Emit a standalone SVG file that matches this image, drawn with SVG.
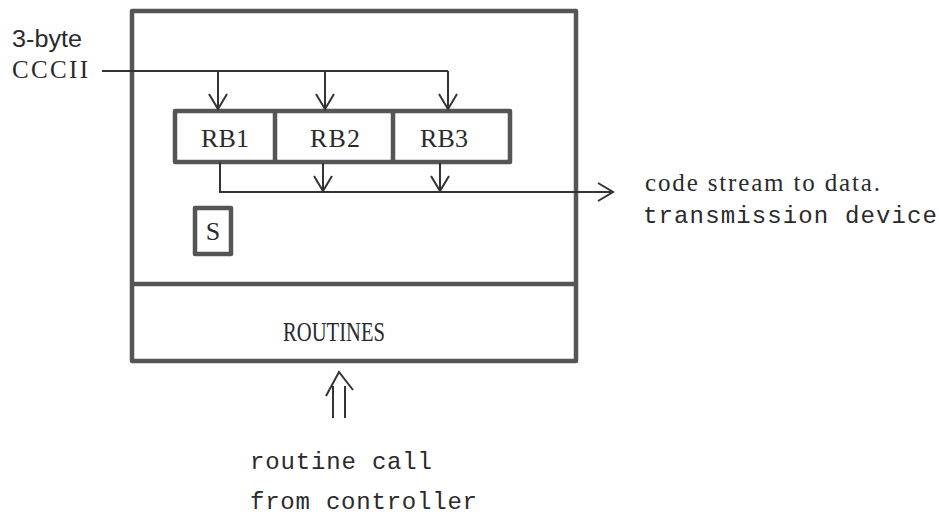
<svg xmlns="http://www.w3.org/2000/svg" width="939" height="519" viewBox="0 0 939 519">
<defs>
<style>
.box{fill:none;stroke:#555;stroke-width:4.5;stroke-linejoin:round}
.ln{fill:none;stroke:#333;stroke-width:2}
.hd{fill:none;stroke:#333;stroke-width:2;stroke-linejoin:miter}
.serif{font-family:"Liberation Serif","DejaVu Serif",serif;fill:#2a2a2a}
.sans{font-family:"Liberation Sans","DejaVu Sans",sans-serif;fill:#2a2a2a}
.mono{font-family:"Liberation Mono","DejaVu Sans Mono",monospace;fill:#2a2a2a}
</style>
<marker id="v" viewBox="0 0 20 20" refX="18" refY="10" markerWidth="20" markerHeight="20" markerUnits="userSpaceOnUse" orient="auto">
<path d="M3,1 L18,10 L3,19" fill="none" stroke="#333" stroke-width="2"/>
</marker>
</defs>
<rect width="939" height="519" fill="#fff"/>

<g id="system">
<rect class="box" x="132" y="11" width="444" height="350"/>
<line class="box" x1="132" y1="284" x2="576" y2="284"/>
</g>

<g id="routines">
<text class="serif" x="334" y="341" font-size="27" text-anchor="middle" textLength="102" lengthAdjust="spacingAndGlyphs">ROUTINES</text>
</g>

<g id="rb">
<rect class="box" x="175" y="111" width="335" height="51"/>
<line class="box" x1="275" y1="111" x2="275" y2="162"/>
<line class="box" x1="393" y1="111" x2="393" y2="162"/>
</g>
<g id="rb1"><text class="serif" x="201" y="147" font-size="26" textLength="48" lengthAdjust="spacing">RB1</text></g>
<g id="rb2"><text class="serif" x="310" y="147" font-size="26" textLength="50" lengthAdjust="spacing">RB2</text></g>
<g id="rb3"><text class="serif" x="420" y="147" font-size="26" textLength="48" lengthAdjust="spacing">RB3</text></g>

<g id="s">
<rect class="box" x="195" y="208" width="36" height="46"/>
<text class="serif" x="213" y="240" font-size="26" text-anchor="middle">S</text>
</g>

<g id="input-label">
<text class="sans" x="12" y="47" font-size="23" textLength="70" lengthAdjust="spacingAndGlyphs">3-byte</text>
<text class="serif" x="12" y="78" font-size="25" textLength="76" lengthAdjust="spacing">CCCII</text>
</g>

<g id="output-label">
<text class="serif" x="645" y="191" font-size="25" textLength="235" lengthAdjust="spacing">code stream to data.</text>
<text class="mono" x="643" y="223" font-size="24" textLength="294" lengthAdjust="spacing">transmission device</text>
</g>

<g id="call-label">
<text class="mono" x="250" y="469" font-size="24" textLength="182" lengthAdjust="spacing">routine call</text>
<text class="mono" x="250" y="509" font-size="24" textLength="227" lengthAdjust="spacing">from controller</text>
</g>

<g id="connectors">
<line class="ln" x1="102" y1="71" x2="448" y2="71"/>
<line class="ln" x1="218" y1="71" x2="218" y2="109" marker-end="url(#v)"/>
<line class="ln" x1="325" y1="71" x2="325" y2="109" marker-end="url(#v)"/>
<line class="ln" x1="448" y1="71" x2="448" y2="109" marker-end="url(#v)"/>
<polyline class="ln" points="220,162 220,192 613,192" marker-end="url(#v)"/>
<line class="ln" x1="323" y1="163" x2="323" y2="191" marker-end="url(#v)"/>
<line class="ln" x1="440" y1="163" x2="440" y2="191" marker-end="url(#v)"/>
<line class="ln" x1="333" y1="418" x2="333" y2="386"/>
<line class="ln" x1="345" y1="418" x2="345" y2="386"/>
<polyline class="hd" points="326,396 339,372 353,390"/>
</g>
</svg>
